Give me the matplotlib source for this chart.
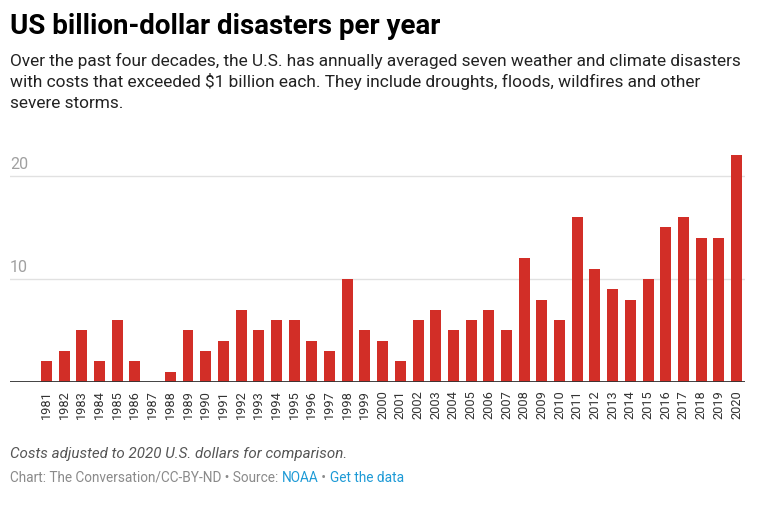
import matplotlib.pyplot as plt
import numpy as np

years = list(range(1981, 2021))
disasters = [2, 3, 5, 2, 6, 2, 0, 1, 5, 3,
             4, 7, 5, 6, 6, 4, 3, 10, 5, 4,
             2, 6, 7, 5, 6, 7, 5, 12, 8, 6,
             16, 11, 9, 8, 10, 15, 16, 14, 14, 22]
yticks = [10, 20]

W, H = 774, 517
fig = plt.figure(figsize=(W / 100, H / 100), dpi=100)
plt.rcParams["font.family"] = ["Roboto", "DejaVu Sans"]


def px(x, y):
    return x / W, 1 - y / H


# plot area: x 10..745, baseline at y=382
ax = fig.add_axes([10 / W, (H - 382) / H, 735 / W, 232 / H])
x = np.arange(len(years))
ax.bar(x, disasters, width=0.62, color="#d22e27", zorder=2)
ax.set_xlim(-2.06, 39.48)
ax.set_ylim(0, 22.5)

for t in yticks:
    ax.axhline(t, color="#e1e1e1", lw=1, zorder=1)
    ax.text(0, t + 0.4, str(t), transform=ax.get_yaxis_transform(),
            ha="left", va="bottom", fontsize=11.5, color="#a0a0a0")
ax.axhline(0, color="#333333", lw=1.3, zorder=3)

ax.set_xticks(x)
ax.set_xticklabels([str(y) for y in years], rotation=90, fontsize=9.2, color="#333333")
ax.tick_params(axis="x", length=0, pad=6)
ax.set_yticks([])
for s in ax.spines.values():
    s.set_visible(False)

fig.text(*px(10, 34), "US billion-dollar disasters per year",
         fontsize=20, fontweight="bold", family=["Liberation Sans Narrow", "Roboto"],
         color="#000000", va="baseline")
subtitle = [
    "Over the past four decades, the U.S. has annually averaged seven weather and climate disasters",
    "with costs that exceeded $1 billion each. They include droughts, floods, wildfires and other",
    "severe storms.",
]
for i, line in enumerate(subtitle):
    fig.text(*px(10, 66 + 21 * i), line, fontsize=12.4, color="#222222", va="baseline")

fig.text(*px(10, 458), "Costs adjusted to 2020 U.S. dollars for comparison.",
         fontsize=10.9, style="italic", color="#555555", va="baseline")

footer = [("Chart: The Conversation/CC-BY-ND \u2022 Source: ", "#8a8a8a"),
          ("NOAA", "#1d9ad6"),
          (" \u2022 ", "#8a8a8a"),
          ("Get the data", "#1d9ad6")]
fig.canvas.draw()
r = fig.canvas.get_renderer()
xpos = 10
for txt, col in footer:
    t = fig.text(*px(xpos, 482), txt, fontsize=9.85, color=col, va="baseline")
    xpos += t.get_window_extent(r).width

fig.savefig("out.png", dpi=100, facecolor="white")
